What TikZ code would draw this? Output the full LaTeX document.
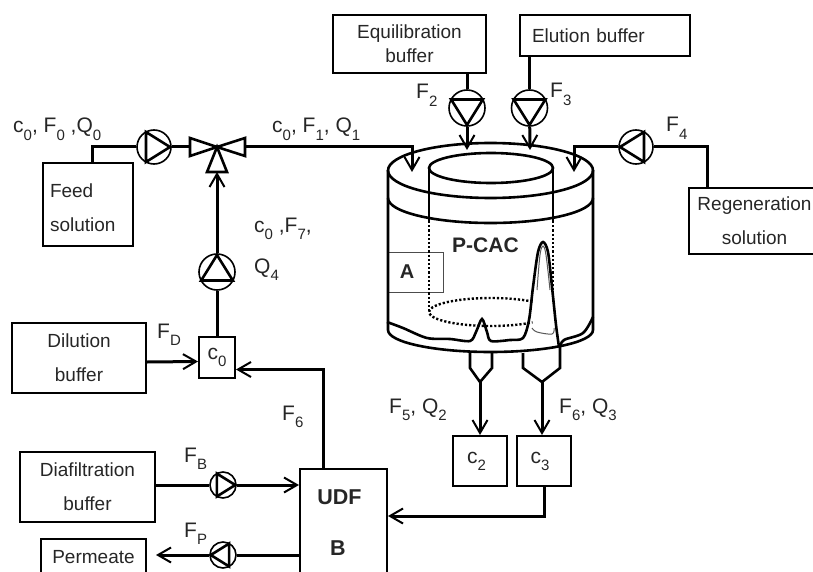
\documentclass[tikz,border=0pt]{standalone}
\usepackage{fontspec}
\setmainfont{Liberation Sans}
\usetikzlibrary{arrows.meta}
\usetikzlibrary{positioning}
\newcommand{\lowr}[1]{\raisebox{-.34em}{\fontsize{15}{15}\selectfont #1}}
\newcommand{\pump}[5]{
	\node[pumpnode,minimum size=#5*2pt] (#1) at (#2,#3) {};
	\draw[pumptri,shift={(#2,#3)},rotate=#4,scale=#5] (-.47,-.88) -- (-.47,.88) -- (.94,0) -- cycle;
}
\begin{document}
\begin{tikzpicture}[x=1pt,y=-1pt,>={Straight Barb[length=13pt,width=15pt,line width=2pt]},
				font=\fontsize{19}{24}\selectfont,text=black!85]
				\tikzstyle{boxnode}=[draw,line width=2pt,inner sep=0pt,align=center]
				\tikzstyle{labelnode}=[anchor=base west,inner sep=0pt,font=\fontsize{21}{24}\selectfont]
				\tikzstyle{pipe}=[line width=3pt]
				\tikzstyle{flow}=[line width=3pt,->]
				\tikzstyle{pumpnode}=[draw,circle,inner sep=0pt,line width=1.6pt]
				\tikzstyle{pumptri}=[draw,line width=2.6pt,line join=miter]
				\tikzstyle{vessel}=[line width=2.6pt]
				\tikzstyle{hidden}=[line width=2.4pt,dash pattern=on 2.2pt off 2pt]
				\useasboundingbox (0,0) rectangle (813,572);
				
				\node[boxnode,minimum width=153pt,minimum height=58pt] (equil) at (409.5,44) {Equilibration\\buffer};
				\node[boxnode,minimum width=170pt,minimum height=41pt,align=left,text width=146pt] (elution) at (605,35.5) {Elution buffer};
				\node[boxnode,minimum width=90pt,minimum height=83pt,align=left,text width=76pt] (feed) at (88,204.5) {\rule{0pt}{20pt}Feed\\[10pt]solution};
				\node[boxnode,minimum width=131pt,minimum height=66pt] (regen) at (754.5,221) {Regeneration\\[10pt]solution};
				\node[boxnode,minimum width=134pt,minimum height=70pt] (dilution) at (79,358) {Dilution\\[10pt]buffer};
				\node[boxnode,minimum width=135pt,minimum height=70pt] (diafil) at (87.5,487) {Diafiltration\\[10pt]buffer};
				\node[boxnode,minimum width=105pt,minimum height=36pt] (permeate) at (93.5,557) {Permeate};
				\node[boxnode,minimum width=36pt,minimum height=41pt,font=\fontsize{21}{24}\selectfont] (czero) at (217,357.5) {c\lowr{0}};
				\node[boxnode,minimum width=54pt,minimum height=50pt,font=\fontsize{21}{24}\selectfont] (ctwo) at (480,461) {\hspace*{-7pt}c\lowr{2}};
				\node[boxnode,minimum width=54pt,minimum height=50pt,font=\fontsize{21}{24}\selectfont] (cthree) at (544,461) {\hspace*{-8pt}c\lowr{3}};
				\node[boxnode,minimum width=87pt,minimum height=108pt,font=\fontsize{21.5}{24}\selectfont\bfseries] (udf) at (343.5,523) {\hspace*{-8pt}UDF\\[27pt]\hspace*{-11pt}B};
				\node[draw=black!70,line width=1pt,minimum width=55pt,minimum height=40pt,inner sep=0pt,font=\fontsize{20}{24}\selectfont\bfseries] (boxa) at (415.5,272) {\hspace*{-17pt}A};
				
				\pump{pfeed}{154}{147}{0}{17}
				\pump{precycle}{217}{272}{90}{18}
				\pump{pequil}{467}{108}{-90}{18}
				\pump{pelution}{529.5}{108}{-90}{18}
				\pump{pregen}{636}{147}{180}{17}
				\pump{pdiafil}{223}{485}{0}{13}
				\pump{ppermeate}{223}{555}{180}{13}
				
				\coordinate (valve) at (217,147);
				\coordinate (vleft) at (190,147);
				\coordinate (vright) at (245,147);
				\coordinate (vbottom) at (217,172);
				\draw[pumptri] (190,138) -- (190,156) -- (valve) -- cycle;
				\draw[pumptri] (245,138) -- (245,156) -- (valve) -- cycle;
				\draw[pumptri] (207,172) -- (227,172) -- (valve) -- cycle;
				
				\coordinate (feedtop) at (92,163);
				\coordinate (regentop) at (707,188);
				\coordinate (inleta) at (412,172);
				\coordinate (inletb) at (467,150);
				\coordinate (inletc) at (530,150);
				\coordinate (inletd) at (574,172);
				\coordinate (outa) at (480,382);
				\coordinate (outb) at (542,382);
				\coordinate (permin) at (156,555);
				
				\draw[pipe] (feedtop) |- (pfeed);
				\draw[pipe] (pfeed) -- (vleft);
				\draw[flow] (vright) -| (inleta);
				\draw[pipe] (pequil |- equil.south) -- (pequil);
				\draw[pipe] (pelution |- elution.south) -- (pelution);
				\draw[flow] (pequil) -- (inletb);
				\draw[flow] (pelution) -- (inletc);
				\draw[pipe] (regentop) |- (pregen);
				\draw[flow] (pregen) -| (inletd);
				\draw[flow] (precycle) -- (vbottom);
				\draw[pipe] (czero.north) -- (precycle);
				\draw[flow] ([yshift=-4pt]dilution.east) -- ([yshift=-4pt]czero.west);
				\draw[flow] ([xshift=-20pt]udf.north) |- ([yshift=-12pt]czero.east);
				\draw[pipe] (pdiafil -| diafil.east) -- (pdiafil);
				\draw[flow] (pdiafil) -- (pdiafil -| udf.west);
				\draw[pipe] (ppermeate -| udf.west) -- (ppermeate);
				\draw[flow] (ppermeate) -- (permin);
				\draw[flow] (outa) -- (ctwo.north);
				\draw[flow] (outb) -- (outb |- cthree.north);
				\draw[flow] (cthree.south) |- ([yshift=7pt]udf.east);
				
				\draw[vessel] (490.5,170.5) ellipse [x radius=102.5,y radius=27.5];
				\draw[vessel] (491,168) ellipse [x radius=62,y radius=15];
				\draw[vessel] (388,170.5) -- (388,330) arc [start angle=180,end angle=0,x radius=102.5,y radius=22] -- (593,170.5);
				\draw[vessel] (593,198) arc [start angle=0,end angle=180,x radius=102.5,y radius=25];
				\draw[vessel] (429,168) -- (429,221);
				\draw[vessel] (553,168) -- (553,221);
				\draw[hidden] (429,221) -- (429,312);
				\draw[hidden] (553,221) -- (553,298);
				\draw[hidden] (532.5,301.6) arc [start angle=-48,end angle=-312,x radius=62,y radius=14];
				\draw[vessel] plot[smooth,tension=.5] coordinates {(387,322) (403,328) (427,338) (450,339) (470,341) (476,332) (482,319) (487,332) (491,341) (510,340) (523,338) (529,320) (533,287) (538,252) (543,242) (548,252) (552,287) (556,325) (559,347)};
				\draw[vessel] plot[smooth,tension=.55] coordinates {(560,347) (564,340) (583,333) (593,317)};
				\draw[line width=1pt,black!65] plot[smooth,tension=.6] coordinates {(532,328) (537,332) (552,334) (554,328)};
				\draw[line width=1pt,black!65] plot[smooth,tension=.6] coordinates {(537,290) (540,255) (543,246) (546,255) (550,290)};
				\draw[vessel] (470,353) -- (470,368) -- (480,382) -- (492,368) -- (492,353);
				\draw[vessel] (523,353) -- (523,368) -- (542,382) -- (560,368) -- (560,347);
				
				\node[labelnode] (lfeed) at (13,133) {c\lowr{0}, F\lowr{0} ,Q\lowr{0}};
				\node[labelnode] (lmain) at (272,133) {c\lowr{0}, F\lowr{1}, Q\lowr{1}};
				\node[labelnode] (lrecya) at (254,232) {c\lowr{0} ,F\lowr{7},};
				\node[labelnode] (lrecyb) at (254,273) {Q\lowr{4}};
				\node[labelnode] (lftwo) at (416,99) {F\lowr{2}};
				\node[labelnode] (lfthree) at (550,98) {F\lowr{3}};
				\node[labelnode] (lffour) at (666,132) {F\lowr{4}};
				\node[labelnode] (lfd) at (157,338) {F\lowr{D}};
				\node[labelnode] (lfsix) at (282,420) {F\lowr{6}};
				\node[labelnode] (lfb) at (184,462) {F\lowr{B}};
				\node[labelnode] (lfp) at (184,537) {F\lowr{P}};
				\node[labelnode] (lfive) at (389,413) {F\lowr{5}, Q\lowr{2}};
				\node[labelnode] (lsix) at (559,413) {F\lowr{6}, Q\lowr{3}};
				\node[labelnode,font=\fontsize{21}{24}\selectfont\bfseries] (lcac) at (452,252) {P-CAC};
\end{tikzpicture}
\end{document}
